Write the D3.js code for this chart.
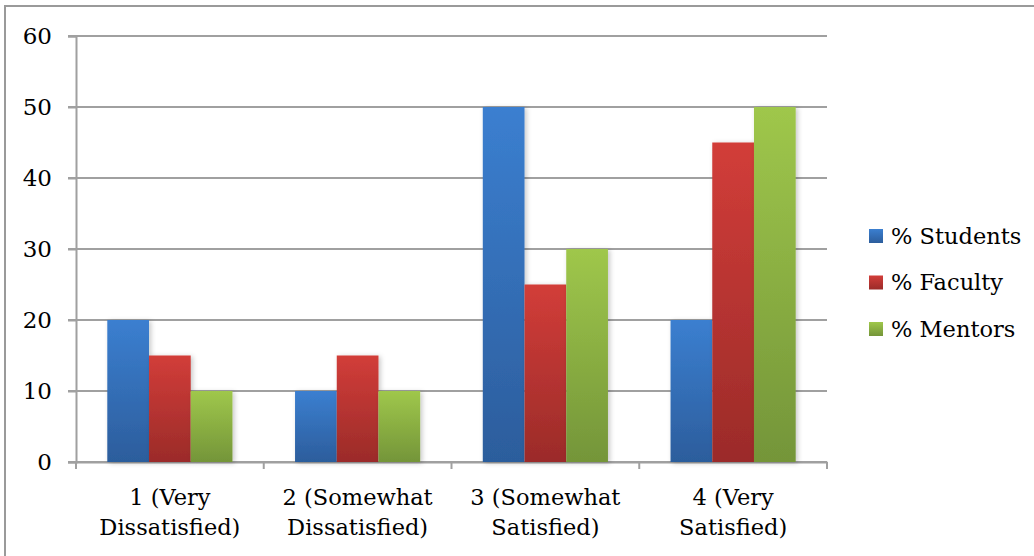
<!DOCTYPE html>
<html>
<head>
<meta charset="utf-8">
<script src="https://cdn.jsdelivr.net/npm/d3@7"></script>
<style>
  html, body { margin: 0; padding: 0; background: #fff; }
  svg { display: block; }
  text { font-family: "DejaVu Serif", "Liberation Serif", serif; fill: #000; }
</style>
</head>
<body>
<svg id="chart" width="1034" height="556"></svg>
<script>
// Satisfaction ratings, percent of each group
const categories = ["1 (Very Dissatisfied)", "2 (Somewhat Dissatisfied)", "3 (Somewhat Satisfied)", "4 (Very Satisfied)"];
const categoryLines = [["1 (Very", "Dissatisfied)"], ["2 (Somewhat", "Dissatisfied)"], ["3 (Somewhat", "Satisfied)"], ["4 (Very", "Satisfied)"]];
const seriesNames = ["% Students", "% Faculty", "% Mentors"];
const students = [20, 10, 50, 20];
const faculty = [15, 15, 25, 45];
const mentors = [10, 10, 30, 50];
const yTicks = [0, 10, 20, 30, 40, 50, 60];

const seriesValues = [students, faculty, mentors];
const seriesColors = [
  { top: "#3b7fd0", bottom: "#2c5d9c" },
  { top: "#d23d39", bottom: "#9b2b29" },
  { top: "#9fc74b", bottom: "#749539" }
];

const FONT = '"DejaVu Serif", "Liberation Serif", serif';
const svg = d3.select("#chart");
const W = 1034, H = 556;
const plot = { left: 76, right: 827, top: 36, bottom: 462 };

// Outer frame (runs off the right and bottom edges)
svg.append("rect")
  .attr("x", 5).attr("y", 6)
  .attr("width", W + 20).attr("height", H + 20)
  .attr("fill", "#fff")
  .attr("stroke", "#9a9a9a").attr("stroke-width", 2);

const defs = svg.append("defs");
seriesColors.forEach((c, i) => {
  const g = defs.append("linearGradient")
    .attr("id", "grad" + i)
    .attr("x1", 0).attr("y1", 0).attr("x2", 0).attr("y2", 1);
  g.append("stop").attr("offset", "0%").attr("stop-color", c.top);
  g.append("stop").attr("offset", "100%").attr("stop-color", c.bottom);
});
const shadow = defs.append("filter").attr("id", "barShadow")
  .attr("x", "-20%").attr("y", "-10%").attr("width", "150%").attr("height", "130%");
shadow.append("feDropShadow")
  .attr("dx", 2).attr("dy", 1).attr("stdDeviation", 2.5)
  .attr("flood-color", "#000").attr("flood-opacity", 0.22);

const y = d3.scaleLinear().domain([0, 60]).range([plot.bottom, plot.top]);
const xAxisScale = d3.scaleBand().domain(categories).range([plot.left, plot.right]);
// Group width = 3 bars, gap between groups = 1.5 bars
const step = xAxisScale.step();
const barW = step / 4.5;
const x1 = d3.scaleBand().domain(d3.range(seriesNames.length)).range([0, barW * 3]);

// Horizontal gridlines
svg.append("g")
  .selectAll("line")
  .data(yTicks)
  .join("line")
  .attr("x1", plot.left - 8).attr("x2", plot.right)
  .attr("y1", d => y(d)).attr("y2", d => y(d))
  .attr("stroke", "#a0a0a0").attr("stroke-width", 2);

// Y axis
const yAxis = svg.append("g")
  .attr("transform", `translate(${plot.left},0)`)
  .call(d3.axisLeft(y).tickValues(yTicks).tickSize(8).tickPadding(16));
yAxis.attr("font-family", FONT);
yAxis.select(".domain").attr("stroke", "#a0a0a0").attr("stroke-width", 2);
yAxis.selectAll(".tick line").attr("stroke", "#a0a0a0").attr("stroke-width", 2);
yAxis.selectAll(".tick text")
  .attr("font-size", 23).attr("fill", "#000");

// X axis
const xAxis = svg.append("g")
  .attr("transform", `translate(0,${plot.bottom})`)
  .call(d3.axisBottom(xAxisScale).tickSize(0).tickFormat(""));
xAxis.select(".domain").attr("stroke", "#a0a0a0").attr("stroke-width", 2);
// Tick marks between categories
const bounds = d3.range(categories.length + 1).map(i => plot.left + i * step);
svg.append("g").selectAll("line")
  .data(bounds)
  .join("line")
  .attr("x1", d => d).attr("x2", d => d)
  .attr("y1", plot.bottom).attr("y2", plot.bottom + 7)
  .attr("stroke", "#a0a0a0").attr("stroke-width", 2);

// Category labels (two lines)
const labels = svg.append("g").selectAll("text")
  .data(categories)
  .join("text")
  .attr("text-anchor", "middle")
  .attr("font-size", 22.5)
  .attr("x", d => xAxisScale(d) + xAxisScale.bandwidth() / 2)
  .attr("y", 505);
labels.each(function (d, i) {
  const t = d3.select(this);
  categoryLines[i].forEach((line, k) => {
    t.append("tspan")
      .attr("x", xAxisScale(d) + xAxisScale.bandwidth() / 2)
      .attr("dy", k === 0 ? 0 : 29.5)
      .text(line);
  });
});

// Bars
const bars = svg.append("g");
seriesValues.forEach((vals, s) => {
  bars.append("g")
    .attr("filter", "url(#barShadow)")
    .selectAll("rect")
    .data(vals.map((v, i) => ({ v, cat: categories[i] })))
    .join("rect")
    .attr("x", d => xAxisScale(d.cat) + barW * 0.75 + x1(s))
    .attr("width", x1.bandwidth())
    .attr("y", d => y(d.v))
    .attr("height", d => y(0) - y(d.v))
    .attr("fill", `url(#grad${s})`);
});

// Legend
const legend = svg.append("g");
const legendY = d3.scalePoint().domain(seriesNames).range([236, 329]);
seriesNames.forEach((name, i) => {
  const cy = legendY(name);
  legend.append("rect")
    .attr("x", 869).attr("y", cy - 7)
    .attr("width", 14).attr("height", 14)
    .attr("fill", `url(#grad${i})`);
  legend.append("text")
    .attr("x", 891).attr("y", cy)
    .attr("dy", "0.35em")
    .attr("font-size", 22.5)
    .text(name);
});
</script>
</body>
</html>
